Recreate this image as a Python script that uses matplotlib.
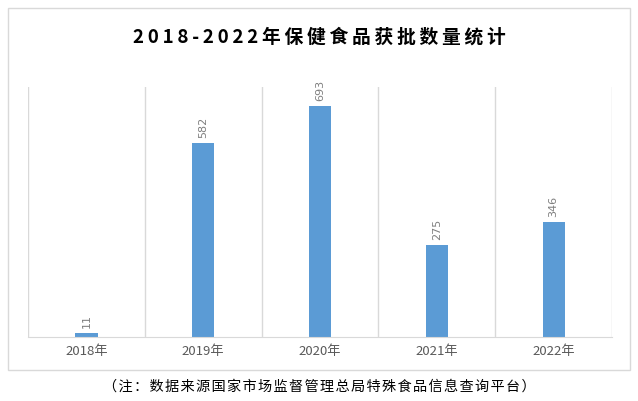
import matplotlib.pyplot as plt
from matplotlib.patches import Rectangle

plt.rcParams['font.family'] = ['Noto Sans CJK SC', 'DejaVu Sans']

# 数据
years = ["2018年", "2019年", "2020年", "2021年", "2022年"]
counts = [11, 582, 693, 275, 346]
title = "2018-2022年保健食品获批数量统计"
note = "（注：数据来源国家市场监督管理总局特殊食品信息查询平台）"

fig = plt.figure(figsize=(6.38, 4.01), dpi=100)
# 外框
fig.patches.append(Rectangle((0.0125, 0.0773), 0.975, 0.903, transform=fig.transFigure,
                             fill=False, edgecolor="#d9d9d9", linewidth=1))

ax = fig.add_axes([0.0439, 0.1596, 0.9154, 0.6234])
x = list(range(len(years)))
ax.bar(x, counts, width=0.19, color="#5b9bd5")
for xi, v in zip(x, counts):
    ax.text(xi, v + 15, str(v), rotation=90, ha="center", va="bottom",
            fontsize=8, color="#7f7f7f", family="DejaVu Sans")

ax.set_xlim(-0.5, len(years) - 0.5)
ax.set_ylim(0, 750)
for b in range(len(years) + 1):
    ax.axvline(b - 0.5, color="#d9d9d9", linewidth=1)
for s in ["top", "left", "right"]:
    ax.spines[s].set_visible(False)
ax.spines["bottom"].set_color("#d9d9d9")
ax.set_yticks([])
ax.set_xticks(x)
ax.set_xticklabels(years, fontsize=9.5, color="#595959")
ax.tick_params(axis="x", length=0, pad=6)

# 字间距
sp = "\u2009"
fig.text(0.5, 0.908, sp.join(title), ha="center", va="center",
         fontsize=13.5, fontweight="bold", color="black")
fig.text(0.5, 0.037, "\u200a".join(note), ha="center",
         va="center", fontsize=10.2, color="black")

fig.savefig("out.png", dpi=100)
